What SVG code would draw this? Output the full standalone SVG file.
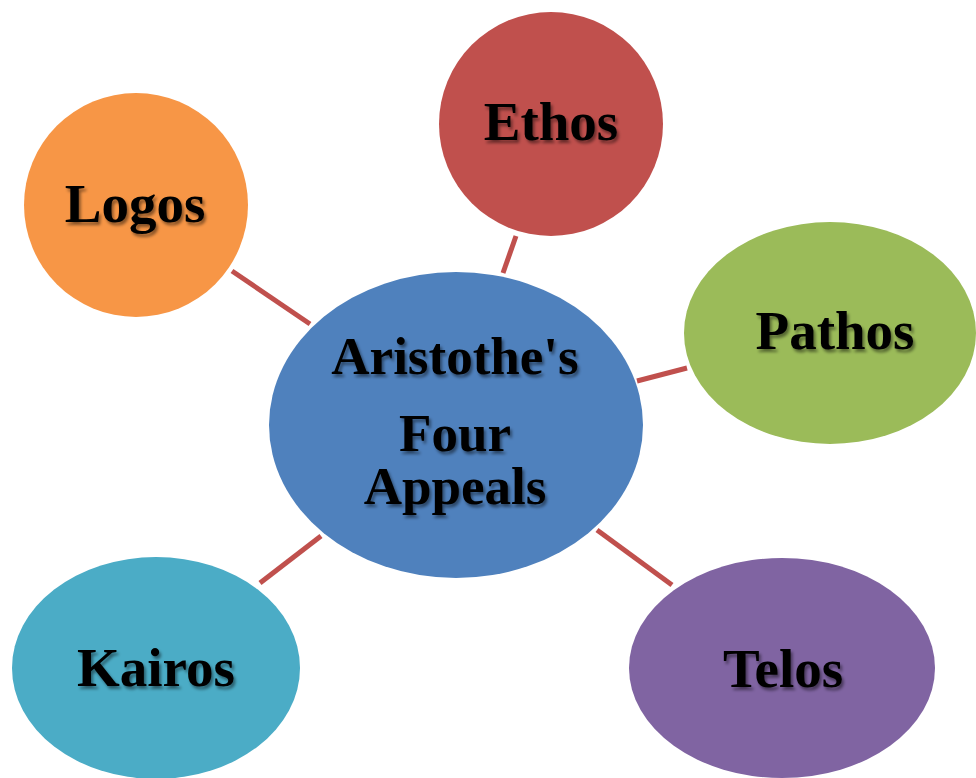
<svg xmlns="http://www.w3.org/2000/svg" width="976" height="778" viewBox="0 0 976 778">
<defs>
<filter id="sh" x="-20%" y="-30%" width="140%" height="160%">
<feDropShadow dx="2" dy="3" stdDeviation="1.6" flood-color="#000" flood-opacity="0.45"/>
</filter>
</defs>
<style>
.lbl{font-family:"Liberation Serif","Times New Roman",serif;font-weight:bold;font-size:55px;fill:#000;text-anchor:middle;filter:url(#sh)}
.mid{font-size:53px}
.con{stroke:#C0504D;stroke-width:5;fill:none}
</style>
<rect width="976" height="778" fill="#fff"/>
<g id="connectors">
<line class="con" x1="232" y1="271" x2="310" y2="324"/>
<line class="con" x1="516" y1="236" x2="503" y2="273"/>
<line class="con" x1="637" y1="381" x2="687" y2="368"/>
<line class="con" x1="597" y1="530" x2="672" y2="585"/>
<line class="con" x1="260" y1="583" x2="321" y2="536"/>
</g>
<g id="center">
<ellipse cx="456" cy="425" rx="187" ry="153" fill="#4F81BD"/>
<text class="lbl mid" x="455" y="374">Aristothe's</text>
<text class="lbl mid" x="455" y="451">Four</text>
<text class="lbl mid" x="455" y="504">Appeals</text>
</g>
<g id="logos">
<circle cx="136" cy="205" r="112" fill="#F79646"/>
<text class="lbl" x="135" y="222">Logos</text>
</g>
<g id="ethos">
<circle cx="551" cy="124" r="112" fill="#C0504D"/>
<text class="lbl" x="551" y="140">Ethos</text>
</g>
<g id="pathos">
<ellipse cx="830" cy="333" rx="146" ry="111" fill="#9BBB59"/>
<text class="lbl" x="835" y="349">Pathos</text>
</g>
<g id="telos">
<ellipse cx="782" cy="668" rx="153" ry="110" fill="#8064A2"/>
<text class="lbl" x="783" y="687">Telos</text>
</g>
<g id="kairos">
<ellipse cx="156" cy="668" rx="144" ry="111" fill="#4BACC6"/>
<text class="lbl" x="156" y="686">Kairos</text>
</g>
</svg>
